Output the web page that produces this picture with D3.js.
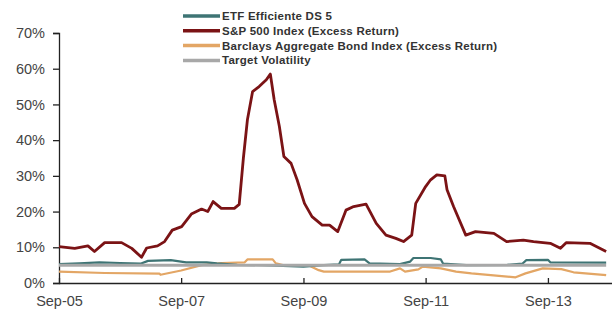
<!DOCTYPE html>
<html>

<head>
    <meta charset="utf-8">
    <script type="text/javascript" src="https://cdn.jsdelivr.net/npm/d3@7"></script>
    <style>
        body { margin: 0; background: #fff; }
        text { font-family: "Liberation Sans", Arial, sans-serif; }
    </style>
</head>

<body>
    <div id="viz"></div>

    <script type="text/javascript">

        // series names, in legend order
        var seriesNames = ["ETF Efficiente DS 5", "S&P 500 Index (Excess Return)",
                           "Barclays Aggregate Bond Index (Excess Return)", "Target Volatility"];
        var seriesColors = ["#3e7474", "#7b1315", "#e3a665", "#a8a8a8"];

        var yTicks = [0, 10, 20, 30, 40, 50, 60, 70];
        var xTickDates = ["2005-09-01", "2007-09-01", "2009-09-01", "2011-09-01", "2013-09-01"];

        // S&P 500 realised vol (%)
        var spDates = ["2005-09-01", "2005-12-04", "2006-02-21", "2006-04-01", "2006-06-01", "2006-09-10",
                       "2006-11-10", "2007-01-07", "2007-02-07", "2007-04-13", "2007-05-25", "2007-07-10",
                       "2007-09-04", "2007-11-01", "2008-01-01", "2008-02-07", "2008-03-10", "2008-04-28",
                       "2008-07-15", "2008-08-13", "2008-09-07", "2008-10-01", "2008-11-01", "2008-12-10",
                       "2009-01-22", "2009-02-15", "2009-03-10", "2009-04-10", "2009-05-07", "2009-06-19",
                       "2009-07-25", "2009-09-07", "2009-10-22", "2009-12-22", "2010-02-04", "2010-03-25",
                       "2010-05-13", "2010-06-28", "2010-09-10", "2010-11-10", "2011-01-07", "2011-03-07",
                       "2011-04-22", "2011-06-10", "2011-07-04", "2011-09-01", "2011-10-01", "2011-11-07",
                       "2011-12-25", "2012-01-07", "2012-02-15", "2012-04-28", "2012-06-25", "2012-10-13",
                       "2012-12-28", "2013-04-07", "2013-06-07", "2013-09-15", "2013-11-15", "2013-12-19",
                       "2014-05-10", "2014-08-15"];
        var spValues = [10.2, 9.7, 10.4, 8.8, 11.3, 11.3,
                        9.7, 7.2, 9.8, 10.4, 11.6, 14.8,
                        15.8, 19.3, 20.7, 20.0, 22.8, 20.9,
                        20.9, 22.0, 35.0, 45.7, 53.6, 55.0,
                        56.9, 58.5, 51.3, 43.8, 35.4, 33.5,
                        28.9, 22.3, 18.6, 16.2, 16.2, 14.4,
                        20.4, 21.4, 22.1, 16.7, 13.4, 12.5,
                        11.6, 13.4, 22.3, 27.0, 28.9, 30.3,
                        30.0, 26.1, 21.4, 13.4, 14.4, 13.9,
                        11.6, 12.0, 11.6, 11.1, 9.7, 11.3,
                        11.1, 8.8];

        // ETF Efficiente DS 5 (%)
        var etfDates = ["2005-09-01", "2006-01-01", "2006-05-01", "2006-09-01", "2007-01-01", "2007-02-15",
                        "2007-07-01", "2007-10-01", "2008-02-01", "2008-04-01", "2008-08-01", "2009-01-01",
                        "2009-05-01", "2009-09-01", "2010-01-01", "2010-04-01", "2010-04-15", "2010-09-01",
                        "2010-10-01", "2011-04-01", "2011-06-01", "2011-06-20", "2011-10-01", "2011-12-01",
                        "2011-12-15", "2012-05-01", "2013-01-01", "2013-04-01", "2013-04-25", "2013-09-01",
                        "2013-09-15", "2014-08-15"];
        var etfValues = [5.3, 5.5, 5.8, 5.6, 5.4, 6.2,
                         6.4, 5.8, 5.8, 5.5, 5.1, 5.0,
                         4.8, 4.6, 5.0, 5.2, 6.5, 6.6,
                         5.5, 5.3, 6.0, 7.0, 7.0, 6.6,
                         5.4, 5.0, 5.1, 5.4, 6.4, 6.5,
                         5.8, 5.7];

        // Barclays Aggregate Bond (%)
        var bondDates = ["2005-09-01", "2006-06-01", "2007-04-25", "2007-05-01", "2007-09-01", "2008-01-01",
                         "2008-05-01", "2008-09-15", "2008-10-01", "2009-03-01", "2009-03-20", "2009-05-01",
                         "2009-10-01", "2009-12-01", "2010-01-01", "2011-02-01", "2011-04-01", "2011-05-01",
                         "2011-07-20", "2011-08-15", "2011-12-01", "2012-03-01", "2012-06-01", "2013-01-01",
                         "2013-02-20", "2013-04-20", "2013-08-01", "2013-11-20", "2014-02-01", "2014-08-15"];
        var bondValues = [3.2, 2.8, 2.6, 2.3, 3.5, 5.0,
                          5.6, 5.8, 6.6, 6.6, 5.5, 5.0,
                          5.0, 3.6, 3.2, 3.2, 4.1, 3.2,
                          3.8, 4.6, 4.1, 3.2, 2.7, 1.8,
                          1.6, 2.7, 4.1, 3.9, 3.0, 2.2];

        // Target volatility (%)
        var targetDates = ["2005-09-01", "2014-08-15"];
        var targetValues = [5.0, 5.0];

        var width = 613, height = 310;
        var parse = d3.timeParse("%Y-%m-%d");

        var svg = d3.select("#viz")
            .append("svg")
            .attr("width", width)
            .attr("height", height);

        var x = d3.scaleTime()
            .domain([parse("2005-09-01"), parse("2014-09-01")])
            .range([59, 609]);

        var y = d3.scaleLinear()
            .domain([0, 70])
            .range([283, 33]);

        // y axis
        var yAxis = svg.append("g")
            .attr("transform", "translate(59,0)")
            .call(d3.axisLeft(y).tickValues(yTicks).tickSize(6).tickPadding(8)
                .tickFormat(function (d) { return d + "%"; }));
        yAxis.selectAll("path, line").attr("stroke", "#222").attr("stroke-width", 1.3);
        yAxis.selectAll("text").attr("font-size", 14.5).attr("fill", "#444")
            .attr("font-family", "'Liberation Sans', Arial, sans-serif");

        // x axis, ticks point inward
        var xAxis = svg.append("g")
            .attr("transform", "translate(0,283)")
            .call(d3.axisBottom(x).tickValues(xTickDates.map(parse)).tickSize(-5).tickSizeOuter(0)
                .tickPadding(13).tickFormat(d3.timeFormat("%b-%y")));
        xAxis.select(".domain").attr("d", "M59,0.5H612");
        xAxis.selectAll("path, line").attr("stroke", "#222").attr("stroke-width", 1.3);
        xAxis.selectAll("text").attr("font-size", 14.5).attr("fill", "#444")
            .attr("font-family", "'Liberation Sans', Arial, sans-serif");

        var line = d3.line()
            .x(function (d) { return x(d.date); })
            .y(function (d) { return y(d.value); });

        function pairs(dates, values) {
            return dates.map(function (d, i) { return { date: parse(d), value: values[i] }; });
        }

        var series = [
            { data: pairs(etfDates, etfValues), width: 2.2 },
            { data: pairs(spDates, spValues), width: 2.8 },
            { data: pairs(bondDates, bondValues), width: 2.2 },
            { data: pairs(targetDates, targetValues), width: 3 }
        ];

        // draw bond under etf, target on top
        [2, 0, 1, 3].forEach(function (i) {
            svg.append("path")
                .datum(series[i].data)
                .attr("fill", "none")
                .attr("stroke", seriesColors[i])
                .attr("stroke-width", series[i].width)
                .attr("stroke-linejoin", "round")
                .attr("d", line);
        });

        // legend
        var legend = svg.append("g").attr("transform", "translate(183,16)");
        seriesNames.forEach(function (name, i) {
            var row = legend.append("g").attr("transform", "translate(0," + (i * 14.8) + ")");
            row.append("line")
                .attr("x1", 0).attr("x2", 37)
                .attr("stroke", seriesColors[i])
                .attr("stroke-width", 3.5);
            row.append("text")
                .attr("x", 39)
                .attr("dy", "0.35em")
                .attr("font-size", 11.5)
                .attr("font-weight", "bold")
                .attr("letter-spacing", 0.25)
                .attr("fill", "#333")
                .text(name);
        });

    </script>

</body>
</html>
